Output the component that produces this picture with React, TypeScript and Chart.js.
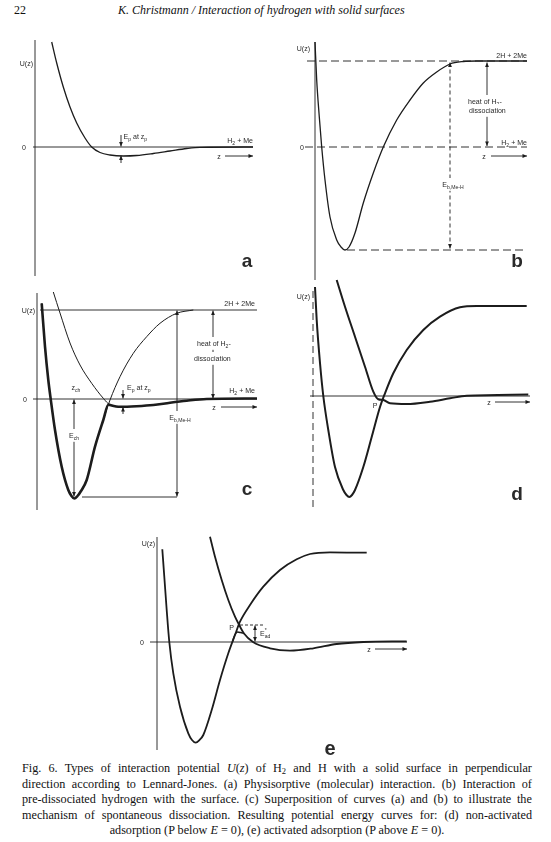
import React, { useEffect, useRef } from "react";
import { Chart, registerables } from "chart.js";
Chart.register(...registerables);

// z: distance from surface (arbitrary units), U: potential energy (arbitrary units, 0 = H2 + Me)
// (a) physisorption of H2
const A_Z = [1.67, 2.17, 2.83, 3.5, 4.17, 5.0, 5.67, 6.5, 7.5, 8.83, 10.17, 11.83, 13.5, 15.17, 16.5, 21.8];
const A_U = [10.5, 8.4, 6.0, 4.0, 2.4, 0.9, 0, -0.55, -0.8, -0.9, -0.85, -0.65, -0.4, -0.15, -0.03, 0];

// (b) pre-dissociated 2H + 2Me
const B_Z = [0, 0.17, 0.43, 0.67, 1.0, 1.5, 2.17, 2.6, 3.0, 3.4, 4.0, 4.83, 5.83, 6.83, 8.17, 9.5, 10.83, 12.17, 13.5, 14.83, 16.17, 21.2];
const B_U = [10.5, 6.7, 3.0, 0, -3.3, -7.0, -9.3, -10.0, -10.3, -10.0, -8.6, -5.6, -2.6, 0, 2.7, 4.7, 6.4, 7.5, 8.3, 8.55, 8.6, 8.6];
const B_LEVELS = [8.6, 0, -10.3]; // 2H+2Me, H2+Me, well bottom

// (c) superposition
const C_MOL_Z = [1.63, 2.3, 3.3, 4.3, 5.47, 6.63, 7.3, 8.3, 9.97, 11.63, 13.3, 14.97, 16.97, 22.0];
const C_MOL_U = [10.7, 8.6, 5.6, 3.4, 1.57, 0.07, -0.6, -0.78, -0.72, -0.6, -0.37, -0.17, 0, 0.05];
const C_ATOM_Z = [0.47, 0.8, 1.13, 1.37, 1.8, 2.47, 3.13, 3.45, 3.73, 4.05, 4.4, 4.97, 5.8, 6.63, 7.3, 8.3, 9.63, 10.97, 12.3, 13.97, 15.63];
const C_ATOM_U = [9.57, 5.23, 1.9, 0, -3.1, -6.77, -9.1, -9.7, -9.95, -9.7, -9.2, -8.1, -4.77, -2.1, -0.1, 2.23, 4.57, 6.23, 7.57, 8.57, 8.9];
const C_CROSS = [7.15, -0.55]; // crossing point (z, U)
const C_LEVELS = [8.9, 0, -9.8];

// (d) non-activated adsorption
const D_ATOM_Z = [0.2, 0.37, 0.7, 1.03, 1.53, 2.2, 3.03, 3.35, 3.63, 3.9, 4.2, 5.03, 5.87, 6.7, 7.2, 8.03, 9.37, 11.03, 12.7, 14.7, 16.37, 21.37];
const D_ATOM_U = [10.9, 7.6, 3.3, 0, -3.4, -7.1, -9.4, -9.9, -10.1, -9.9, -9.4, -7.1, -4.1, -1.1, 0.27, 2.27, 4.6, 6.6, 7.93, 8.87, 9.0, 9.0];
const D_MOL_Z = [2.37, 3.2, 4.2, 5.2, 6.03, 6.53, 7.03, 7.7, 9.37, 11.7, 13.7, 15.37, 21.53];
const D_MOL_U = [11.6, 8.93, 5.93, 2.93, 0.43, -0.33, -0.4, -0.73, -0.8, -0.57, -0.23, 0.03, 0.15];

// (e) activated adsorption
const E_ATOM_Z = [0.53, 0.73, 0.97, 1.23, 1.63, 2.3, 3.13, 3.5, 3.87, 4.25, 4.63, 5.47, 6.3, 7.13, 7.8, 8.3, 9.3, 10.63, 12.3, 13.97, 15.3, 17.3, 20.97];
const E_ATOM_U = [9.27, 6.53, 3.2, 0, -3.13, -6.47, -9.13, -9.8, -10.07, -9.8, -9.3, -6.8, -3.8, -1.13, 0.7, 2.03, 3.7, 5.53, 7.2, 8.27, 8.8, 8.97, 8.93];
const E_MOL_Z = [5.3, 5.8, 6.47, 7.13, 7.8, 8.13, 8.7, 9.6, 11.3, 13.3, 15.63, 17.97, 20.63, 24.97];
const E_MOL_U = [10.53, 8.53, 6.2, 4.2, 2.53, 1.87, 0.85, 0, -0.63, -0.87, -0.63, -0.2, 0, 0.07];
const E_ARC_Z = [7.55, 7.8, 8.05, 8.35, 8.7];
const E_ARC_U = [0.05, 0.75, 1.0, 0.95, 0.85];
const E_P_LEVEL = 1.7;

const PPU = 10;
const INK = "#1c1c1c";
const TXT = "#2a2a2a";
const FAM = '"Liberation Sans", Arial, sans-serif';

type Seg = [string, number];
type Ln = { z1: number; u1: number; z2: number; u2: number; w?: number; dash?: number[]; h1?: boolean; h2?: boolean };
type Tx = { z: number; u: number; s: Seg[]; al?: string; sz?: number; bold?: boolean; bg?: boolean; hs?: number };

function curve(zs: number[], us: number[], w: number) {
  return {
    data: zs.map((z, i) => ({ x: z, y: us[i] })),
    borderColor: INK,
    borderWidth: w,
    pointRadius: 0,
    fill: false,
    cubicInterpolationMode: "monotone",
    clip: false,
  };
}

function boldEnvelope(aZ: number[], aU: number[], mZ: number[], mU: number[], cross: number[]) {
  const zs: number[] = [];
  const us: number[] = [];
  aZ.forEach((z, i) => { if (z < cross[0] - 0.05) { zs.push(z); us.push(aU[i]); } });
  zs.push(cross[0]); us.push(cross[1]);
  mZ.forEach((z, i) => { if (z > cross[0] + 0.05) { zs.push(z); us.push(mU[i]); } });
  return [zs, us];
}

function head(ctx: CanvasRenderingContext2D, x1: number, y1: number, x2: number, y2: number) {
  const a = Math.atan2(y2 - y1, x2 - x1);
  const L = 4.5, H = 1.9;
  const c = Math.cos(a), s = Math.sin(a);
  ctx.beginPath();
  ctx.moveTo(x2, y2);
  ctx.lineTo(x2 - L * c + H * s, y2 - L * s - H * c);
  ctx.lineTo(x2 - L * c - H * s, y2 - L * s + H * c);
  ctx.closePath();
  ctx.fill();
}

function drawRich(ctx: CanvasRenderingContext2D, px: number, py: number, t: Tx) {
  const sz = t.sz ?? 8;
  const hs = t.hs ?? 0.88;
  const fontFor = (m: number) => `${t.bold ? "bold " : ""}${m === 0 ? sz : Math.round(sz * 0.72 * 10) / 10}px ${FAM}`;
  let W = 0;
  const widths = t.s.map(([str, m]) => {
    ctx.font = fontFor(m);
    const w = m === 3 ? 0 : ctx.measureText(str).width * hs;
    W += w;
    return w;
  });
  const al = t.al ?? "c";
  let x = al === "l" ? px : al === "r" ? px - W : px - W / 2;
  if (t.bg) {
    ctx.fillStyle = "#fff";
    ctx.fillRect(x - 1.5, py - sz * 0.75, W + 3, sz * 1.6);
  }
  ctx.fillStyle = TXT;
  ctx.textBaseline = "alphabetic";
  ctx.textAlign = "left";
  const base = py + sz * 0.36;
  t.s.forEach(([str, m], i) => {
    ctx.font = fontFor(m);
    const dy = m === 1 ? sz * 0.32 : m === 2 || m === 3 ? -sz * 0.5 : 0;
    ctx.save();
    ctx.translate(x, base + dy);
    ctx.scale(hs, 1);
    ctx.fillText(str, 0, 0);
    ctx.restore();
    x += widths[i];
  });
}

function makePlugin(lines: Ln[], texts: Tx[]) {
  return {
    id: "figAnno",
    beforeDatasetsDraw(chart: any) {
      const ctx: CanvasRenderingContext2D = chart.ctx;
      const sx = chart.scales.x, sy = chart.scales.y;
      ctx.save();
      lines.forEach((l) => {
        const x1 = sx.getPixelForValue(l.z1), y1 = sy.getPixelForValue(l.u1);
        const x2 = sx.getPixelForValue(l.z2), y2 = sy.getPixelForValue(l.u2);
        ctx.strokeStyle = INK;
        ctx.fillStyle = INK;
        ctx.lineWidth = l.w ?? 0.9;
        ctx.setLineDash(l.dash ?? []);
        ctx.beginPath();
        ctx.moveTo(x1, y1);
        ctx.lineTo(x2, y2);
        ctx.stroke();
        ctx.setLineDash([]);
        if (l.h2) head(ctx, x1, y1, x2, y2);
        if (l.h1) head(ctx, x2, y2, x1, y1);
      });
      ctx.restore();
    },
    afterDatasetsDraw(chart: any) {
      const ctx: CanvasRenderingContext2D = chart.ctx;
      const sx = chart.scales.x, sy = chart.scales.y;
      ctx.save();
      texts.forEach((t) => drawRich(ctx, sx.getPixelForValue(t.z), sy.getPixelForValue(t.u), t));
      ctx.restore();
    },
  };
}

type Box = { left: number; top: number; width: number; height: number };

function Panel({ box, origin, datasets, lines, texts }: { box: Box; origin: { x: number; y: number }; datasets: any[]; lines: Ln[]; texts: Tx[] }) {
  const ref = useRef<HTMLCanvasElement>(null);
  useEffect(() => {
    const chart = new Chart(ref.current as HTMLCanvasElement, {
      type: "line",
      data: { datasets },
      options: {
        responsive: false,
        animation: false,
        events: [],
        layout: { padding: 0 },
        plugins: { legend: { display: false }, tooltip: { enabled: false } },
        scales: {
          x: { type: "linear", display: false, min: (box.left - origin.x) / PPU, max: (box.left + box.width - origin.x) / PPU },
          y: { type: "linear", display: false, min: (origin.y - box.top - box.height) / PPU, max: (origin.y - box.top) / PPU },
        },
      } as any,
      plugins: [makePlugin(lines, texts) as any],
    });
    return () => chart.destroy();
  }, []);
  return (
    <canvas
      ref={ref}
      width={box.width}
      height={box.height}
      style={{ position: "absolute", left: box.left, top: box.top, width: box.width, height: box.height }}
    />
  );
}

const UZ: Seg[] = [["U(z)", 0]];
const H2ME: Seg[] = [["H", 0], ["2", 1], [" + Me", 0]];
const TWOH: Seg[] = [["2H + 2Me", 0]];
const EPZP: Seg[] = [["E", 0], ["p", 1], [" at z", 0], ["p", 1]];
const EB: Seg[] = [["E", 0], ["b,Me-H", 1]];
const HEAT1: Seg[] = [["heat of H", 0], ["2", 1], ["-", 0]];
const HEAT2: Seg[] = [["dissociation", 0]];

const [C_BOLD_Z, C_BOLD_U] = boldEnvelope(C_ATOM_Z, C_ATOM_U, C_MOL_Z, C_MOL_U, C_CROSS);

const CAPTION = [
  "Fig. 6. Types of interaction potential <i>U</i>(<i>z</i>) of H<sub>2</sub> and H with a solid surface in perpendicular",
  "direction according to Lennard-Jones. (a) Physisorptive (molecular) interaction. (b) Interaction of",
  "pre-dissociated hydrogen with the surface. (c) Superposition of curves (a) and (b) to illustrate the",
  "mechanism of spontaneous dissociation. Resulting potential energy curves for: (d) non-activated",
];
const CAPTION_LAST = "adsorption (P below <i>E</i> = 0), (e) activated adsorption (P above <i>E</i> = 0).";

export default function App() {
  const capFont = '12.2px "Liberation Serif", "Times New Roman", serif';
  return (
    <div style={{ position: "absolute", left: 0, top: 0, width: 551, height: 842, background: "#fff", overflow: "hidden", color: "#111" }}>
      <style>{`.cap sub{font-size:8.5px;line-height:0;vertical-align:-2px}`}</style>
      <div style={{ position: "absolute", left: 14, top: 3, font: '12px "Liberation Serif", serif' }}>22</div>
      <div style={{ position: "absolute", left: 118, top: 3, font: 'italic 12px "Liberation Serif", serif' }}>
        K. Christmann / Interaction of hydrogen with solid surfaces
      </div>

      {/* (a) */}
      <Panel
        box={{ left: 18, top: 35, width: 245, height: 245 }}
        origin={{ x: 35, y: 147 }}
        datasets={[curve(A_Z, A_U, 1.3)]}
        lines={[
          { z1: 0, u1: 10.7, z2: 0, u2: -12.9 },
          { z1: -0.2, u1: 0, z2: 21.8, u2: 0 },
          { z1: 8.6, u1: 1.2, z2: 8.6, u2: 0.05, h2: true },
          { z1: 8.6, u1: -1.6, z2: 8.6, u2: -0.85, h2: true },
          { z1: 19.0, u1: -0.9, z2: 21.8, u2: -0.9, h2: true },
        ]}
        texts={[
          { z: -0.2, u: 8.4, s: UZ, al: "r" },
          { z: -1.1, u: 0, s: [["0", 0]] },
          { z: 8.85, u: 1.1, s: EPZP, al: "l" },
          { z: 21.8, u: 0.7, s: H2ME, al: "r" },
          { z: 18.4, u: -0.9, s: [["z", 0]] },
          { z: 21.2, u: -11.3, s: [["a", 0]], sz: 19, bold: true, hs: 1 },
        ]}
      />

      {/* (b) */}
      <Panel
        box={{ left: 288, top: 35, width: 250, height: 247 }}
        origin={{ x: 315, y: 147 }}
        datasets={[curve(B_Z, B_U, 1.3)]}
        lines={[
          { z1: 0, u1: 10.5, z2: 0, u2: -13.3 },
          { z1: -0.8, u1: B_LEVELS[0], z2: 21.2, u2: B_LEVELS[0], dash: [8, 4] },
          { z1: -1.0, u1: B_LEVELS[1], z2: 21.2, u2: B_LEVELS[1], dash: [8, 4] },
          { z1: 3.2, u1: B_LEVELS[2], z2: 21.2, u2: B_LEVELS[2], dash: [8, 4] },
          { z1: 13.5, u1: B_LEVELS[0] - 0.15, z2: 13.5, u2: B_LEVELS[2] + 0.15, dash: [4, 3], h1: true, h2: true },
          { z1: 17.2, u1: B_LEVELS[0] - 0.15, z2: 17.2, u2: 0.1, h1: true, h2: true },
          { z1: 17.6, u1: -0.9, z2: 21.2, u2: -0.9, h2: true },
        ]}
        texts={[
          { z: -0.5, u: 9.9, s: UZ, al: "r" },
          { z: -1.3, u: 0, s: [["0", 0]] },
          { z: 21.2, u: 9.2, s: TWOH, al: "r" },
          { z: 21.2, u: 0.5, s: H2ME, al: "r" },
          { z: 15.3, u: 4.6, s: HEAT1, al: "l", bg: true },
          { z: 15.4, u: 3.7, s: HEAT2, al: "l", bg: true },
          { z: 13.8, u: -3.7, s: EB, bg: true },
          { z: 16.9, u: -0.9, s: [["z", 0]] },
          { z: 20.2, u: -11.3, s: [["b", 0]], sz: 19, bold: true, hs: 1 },
        ]}
      />

      {/* (c) */}
      <Panel
        box={{ left: 18, top: 283, width: 245, height: 230 }}
        origin={{ x: 37, y: 399 }}
        datasets={[curve(C_MOL_Z, C_MOL_U, 1.0), curve(C_ATOM_Z, C_ATOM_U, 1.0), curve(C_BOLD_Z, C_BOLD_U, 2.6)]}
        lines={[
          { z1: 0, u1: 10.6, z2: 0, u2: -11.1 },
          { z1: 0.3, u1: C_LEVELS[0], z2: 22, u2: C_LEVELS[0] },
          { z1: -0.4, u1: C_LEVELS[1], z2: 22, u2: C_LEVELS[1] },
          { z1: 4.5, u1: C_LEVELS[2], z2: 14, u2: C_LEVELS[2] },
          { z1: 14, u1: C_LEVELS[0] - 0.05, z2: 14, u2: C_LEVELS[2] + 0.05, h1: true, h2: true },
          { z1: 17.6, u1: C_LEVELS[0] - 0.05, z2: 17.6, u2: 0.05, h1: true, h2: true },
          { z1: 3.7, u1: -0.05, z2: 3.7, u2: C_LEVELS[2] + 0.05, h1: true, h2: true },
          { z1: 8.6, u1: 0.9, z2: 8.6, u2: 0.05, h2: true },
          { z1: 8.6, u1: -1.5, z2: 8.6, u2: -0.8, h2: true },
          { z1: 18.4, u1: -0.8, z2: 22, u2: -0.8, h2: true },
        ]}
        texts={[
          { z: -0.2, u: 8.9, s: UZ, al: "r" },
          { z: -1.2, u: 0, s: [["0", 0]] },
          { z: 21.8, u: 9.6, s: TWOH, al: "r" },
          { z: 21.8, u: 0.9, s: H2ME, al: "r" },
          { z: 16.0, u: 5.6, s: HEAT1, al: "l", bg: true },
          { z: 15.7, u: 4.1, s: HEAT2, al: "l", bg: true },
          { z: 14.3, u: -1.8, s: EB, bg: true },
          { z: 3.9, u: 1.2, s: [["z", 0], ["ch", 1]] },
          { z: 3.7, u: -3.6, s: [["E", 0], ["ch", 1]], bg: true },
          { z: 9.0, u: 1.2, s: EPZP, al: "l" },
          { z: 17.7, u: -0.8, s: [["z", 0]] },
          { z: 21.0, u: -8.9, s: [["c", 0]], sz: 19, bold: true, hs: 1 },
        ]}
      />

      {/* (d) */}
      <Panel
        box={{ left: 288, top: 278, width: 250, height: 235 }}
        origin={{ x: 313, y: 396 }}
        datasets={[curve(D_ATOM_Z, D_ATOM_U, 2.0), curve(D_MOL_Z, D_MOL_U, 2.0)]}
        lines={[
          { z1: 0, u1: 10.5, z2: 0, u2: -11.4, dash: [7, 4] },
          { z1: -0.3, u1: 0, z2: 21.7, u2: 0 },
          { z1: 18.2, u1: -0.6, z2: 21.7, u2: -0.6, h2: true },
        ]}
        texts={[
          { z: -0.3, u: 10.0, s: UZ, al: "r" },
          { z: 17.6, u: -0.6, s: [["z", 0]] },
          { z: 6.2, u: -0.9, s: [["P", 0]] },
          { z: 20.4, u: -9.7, s: [["d", 0]], sz: 19, bold: true, hs: 1 },
        ]}
      />

      {/* (e) */}
      <Panel
        box={{ left: 130, top: 528, width: 290, height: 228 }}
        origin={{ x: 157, y: 642 }}
        datasets={[curve(E_ATOM_Z, E_ATOM_U, 1.8), curve(E_MOL_Z, E_MOL_U, 1.8), curve(E_ARC_Z, E_ARC_U, 1.5)]}
        lines={[
          { z1: 0, u1: 10.5, z2: 0, u2: -10.8 },
          { z1: -0.7, u1: 0, z2: 25, u2: 0 },
          { z1: 21.8, u1: -0.7, z2: 25, u2: -0.7, h2: true },
          { z1: 8.3, u1: E_P_LEVEL, z2: 10.8, u2: E_P_LEVEL, dash: [3, 2] },
          { z1: 9.8, u1: E_P_LEVEL - 0.05, z2: 9.8, u2: 0.05, h1: true, h2: true },
        ]}
        texts={[
          { z: -0.2, u: 9.9, s: UZ, al: "r" },
          { z: -1.5, u: 0, s: [["0", 0]] },
          { z: 21.2, u: -0.7, s: [["z", 0]] },
          { z: 7.7, u: 1.5, s: [["P", 0]], al: "r" },
          { z: 10.3, u: 0.9, s: [["E", 0], ["*", 3], ["ad", 1]], al: "l" },
          { z: 17.3, u: -10.6, s: [["e", 0]], sz: 20, bold: true, hs: 1 },
        ]}
      />

      <div className="cap" style={{ position: "absolute", left: 22, top: 761, width: 510, font: capFont }}>
        {CAPTION.map((line, i) => (
          <div key={i} style={{ display: "flex", justifyContent: "space-between", whiteSpace: "nowrap", height: 15.5, lineHeight: "15.5px" }}>
            {line.split(" ").map((w, j) => (
              <span key={j} dangerouslySetInnerHTML={{ __html: w }} />
            ))}
          </div>
        ))}
        <div style={{ textAlign: "center", whiteSpace: "nowrap", height: 15.5, lineHeight: "15.5px" }} dangerouslySetInnerHTML={{ __html: CAPTION_LAST }} />
      </div>
    </div>
  );
}
